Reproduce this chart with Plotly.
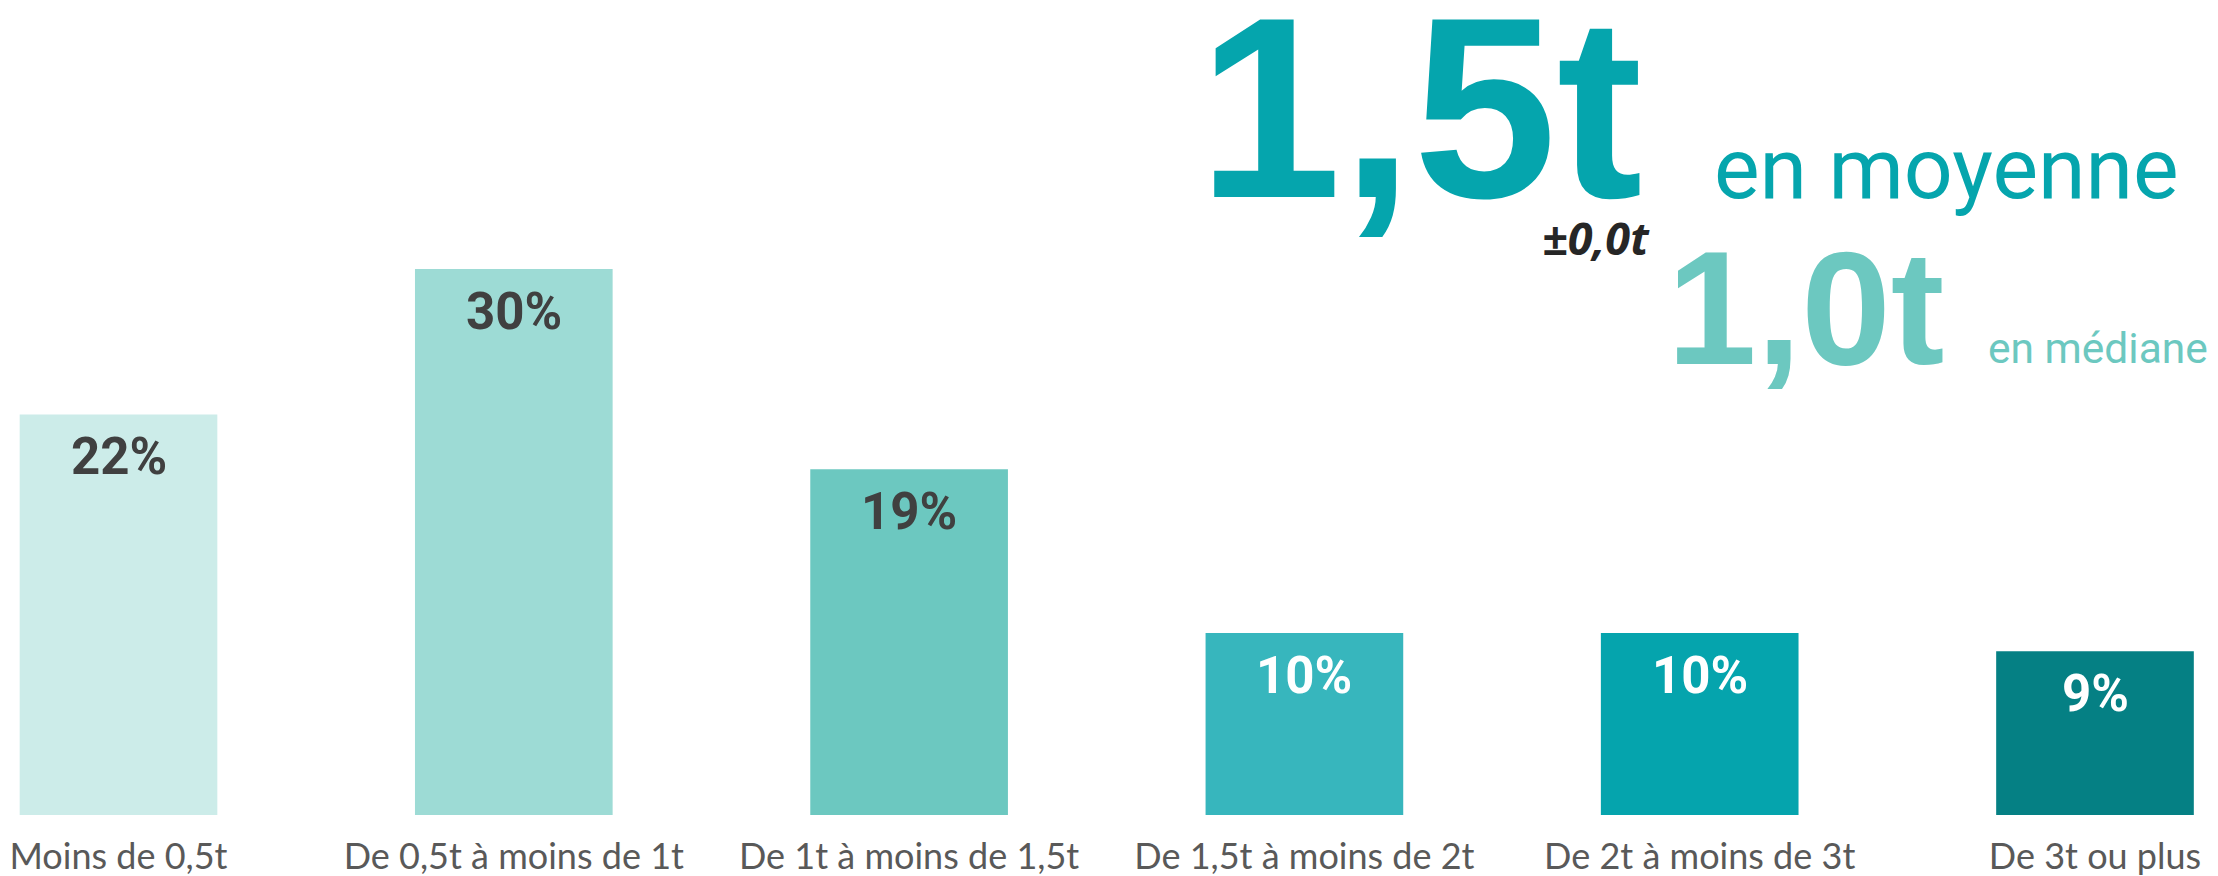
import plotly.graph_objects as go

categories = ["Moins de 0,5t", "De 0,5t à moins de 1t", "De 1t à moins de 1,5t",
              "De 1,5t à moins de 2t", "De 2t à moins de 3t", "De 3t ou plus"]
values = [22, 30, 19, 10, 10, 9]
value_labels = ["22%", "30%", "19%", "10%", "10%", "9%"]
bar_colors = ["#CCECE9", "#9DDBD5", "#6CC8C0", "#37B6BD", "#05A4AD", "#058084"]
label_colors = ["#404040", "#404040", "#404040", "#FFFFFF", "#FFFFFF", "#FFFFFF"]

mean_value = "1,5t"
mean_text = "en moyenne"
mean_ci = "±0,0t"
median_value = "1,0t"
median_text = "en médiane"

# The page body has an 8px margin: the figure starts at (8, 8) in the window.
OFF = 8
W, H = 2218 - OFF, 876 - OFF
BOTTOM = 876 - 815
PH = H - BOTTOM

def py(ypx):
    return (PH - (ypx - OFF)) / PH

def px(xpx):
    return (xpx - OFF) / W

# x range so that bar centres land at 118.5 and 2095 (window pixels)
c0, c5 = 118.5 - OFF, 2095 - OFF
span = 5 * W / (c5 - c0)
r0 = -c0 * span / W

fig = go.Figure()
fig.add_trace(go.Bar(
    x=list(range(len(categories))), y=values,
    marker=dict(color=bar_colors, line=dict(width=0)),
    width=0.5, hoverinfo="skip", showlegend=False,
))

annotations = []
for i, (v, t, c) in enumerate(zip(values, value_labels, label_colors)):
    annotations.append(dict(
        x=i, y=v, xref="x", yref="y", text=f"<b>{t}</b>", showarrow=False,
        xanchor="center", yanchor="middle", yshift=-42,
        font=dict(family="Roboto", size=51, color=c),
    ))

annotations += [
    dict(x=px(1196), y=py(198 - 0.35 * 258), xref="paper", yref="paper",
         text=f"<b>{mean_value}</b>", showarrow=False, xanchor="left", yanchor="middle",
         font=dict(family="Liberation Sans", size=258, color="#05A5AD")),
    dict(x=px(1712), y=py(198 - 0.342 * 86), xref="paper", yref="paper",
         text=mean_text, showarrow=False, xanchor="left", yanchor="middle",
         font=dict(family="Roboto", size=86, color="#05A5AD")),
    dict(x=px(1652), y=py(255 - 0.388 * 45), xref="paper", yref="paper",
         text=f"<b><i>{mean_ci}</i></b>", showarrow=False, xanchor="right", yanchor="middle",
         font=dict(family="Open Sans", size=45, color="#262626")),
    dict(x=px(1665), y=py(364 - 0.35 * 161), xref="paper", yref="paper",
         text=f"<b>{median_value}</b>", showarrow=False, xanchor="left", yanchor="middle",
         font=dict(family="Liberation Sans", size=161, color="#6CC8C0")),
    dict(x=px(1986), y=py(363 - 0.342 * 42.5), xref="paper", yref="paper",
         text=median_text, showarrow=False, xanchor="left", yanchor="middle",
         font=dict(family="Roboto", size=42.5, color="#6CC8C0")),
]

fig.update_layout(
    width=W, height=H,
    margin=dict(l=0, r=0, t=0, b=BOTTOM, pad=0),
    paper_bgcolor="white", plot_bgcolor="white",
    annotations=annotations,
    xaxis=dict(
        range=[r0, r0 + span], tickmode="array",
        tickvals=list(range(len(categories))), ticktext=categories,
        showgrid=False, zeroline=False, showline=False, ticks="",
        ticklabelstandoff=17, automargin=False, ticklabeloverflow="allow",
        tickfont=dict(family="Lato", size=36, color="#595959"),
        fixedrange=True,
    ),
    yaxis=dict(range=[0, PH / 18.2], visible=False, fixedrange=True),
)

fig.write_html("out.html")
